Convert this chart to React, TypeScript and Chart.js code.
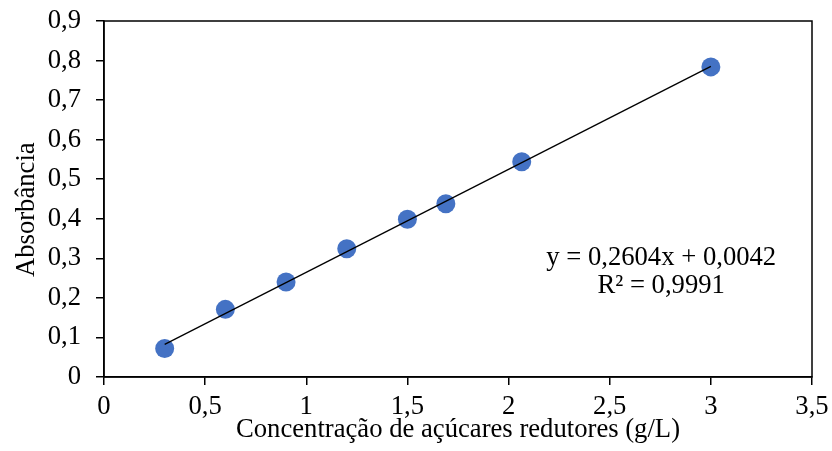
import React, { useEffect, useRef } from "react";
import { Chart, registerables } from "chart.js";

Chart.register(...registerables);

const concentrations = [0.3, 0.6, 0.9, 1.2, 1.5, 1.69, 2.065, 3.0];
const absorbances = [0.072, 0.171, 0.24, 0.324, 0.399, 0.438, 0.544, 0.784];
const slope = 0.2604;
const intercept = 0.0042;
const equationLines = ["y = 0,2604x + 0,0042", "R² = 0,9991"];
const xTitle = "Concentração de açúcares redutores (g/L)";
const yTitle = "Absorbância";

const FONT = "'Liberation Serif', 'Times New Roman', serif";
const FS = 26.67;

const fmt = (v: number) => {
  const r = Math.round(v * 10) / 10;
  return String(r).replace(".", ",");
};

const framePlugin = {
  id: "frame",
  afterDatasetsDraw(chart: any) {
    const { ctx, chartArea } = chart;
    ctx.save();
    ctx.strokeStyle = "#000";
    ctx.lineWidth = 1.5;
    ctx.strokeRect(chartArea.left, chartArea.top, chartArea.right - chartArea.left, chartArea.bottom - chartArea.top);
    ctx.fillStyle = "#000";
    ctx.font = `${FS}px ${FONT}`;
    ctx.textAlign = "center";
    ctx.textBaseline = "middle";
    const w = chartArea.right - chartArea.left;
    const h = chartArea.bottom - chartArea.top;
    const cx = chartArea.left + w * 0.787;
    const cy = chartArea.top + h * 0.665;
    equationLines.forEach((t, i) => ctx.fillText(t, cx, cy + i * 28));
    // y axis title
    ctx.save();
    ctx.translate(27, chartArea.top + h * 0.53);
    ctx.rotate(-Math.PI / 2);
    ctx.fillText(yTitle, 0, 0);
    ctx.restore();
    ctx.restore();
  },
};

export default function App() {
  const ref = useRef<HTMLCanvasElement | null>(null);
  useEffect(() => {
    document.body.style.margin = "0";
    const xMin = Math.min(...concentrations);
    const xMax = Math.max(...concentrations);
    const chart = new Chart(ref.current!, {
      type: "scatter",
      data: {
        datasets: [
          {
            label: "trend",
            data: [
              { x: xMin, y: slope * xMin + intercept },
              { x: xMax, y: slope * xMax + intercept },
            ],
            showLine: true,
            borderColor: "#000",
            borderWidth: 1.3,
            pointRadius: 0,
            order: 0,
          },
          {
            label: "data",
            data: concentrations.map((x, i) => ({ x, y: absorbances[i] })),
            backgroundColor: "#4472C4",
            borderColor: "#4472C4",
            pointRadius: 9.5,
            borderWidth: 0,
            order: 1,
          },
        ],
      },
      options: {
        animation: false,
        responsive: false,
        layout: { padding: { top: 21, right: 20, left: 0, bottom: 0 } },
        plugins: { legend: { display: false }, tooltip: { enabled: false } },
        scales: {
          x: {
            type: "linear",
            min: 0,
            max: 3.5,
            ticks: {
              stepSize: 0.5,
              color: "#000",
              font: { family: FONT, size: FS },
              padding: 6,
              callback: (v: any) => fmt(Number(v)),
            },
            grid: { drawOnChartArea: false, tickLength: 8, color: "#000", lineWidth: 1.5 },
            border: { color: "#000", width: 1.5 },
            title: {
              display: true,
              text: xTitle,
              color: "#000",
              font: { family: FONT, size: FS },
              padding: { top: 0, bottom: 5 },
            },
            afterFit: (s: any) => {
              s.height = 74;
              s.paddingLeft = 0;
              s.paddingRight = 0;
            },
          },
          y: {
            type: "linear",
            min: 0,
            max: 0.9,
            ticks: {
              stepSize: 0.1,
              color: "#000",
              font: { family: FONT, size: FS },
              padding: 15,
              callback: (v: any) => fmt(Number(v)),
            },
            grid: { drawOnChartArea: false, tickLength: 8, color: "#000", lineWidth: 1.5 },
            border: { color: "#000", width: 1.5 },
            title: { display: false },
            afterFit: (s: any) => {
              s.width = 104;
              s.paddingTop = 0;
              s.paddingBottom = 0;
            },
          },
        },
      },
      plugins: [framePlugin],
    });
    return () => chart.destroy();
  }, []);
  return (
    <div style={{ width: 832, height: 451, background: "#fff" }}>
      <canvas ref={ref} width={832} height={451} />
    </div>
  );
}
